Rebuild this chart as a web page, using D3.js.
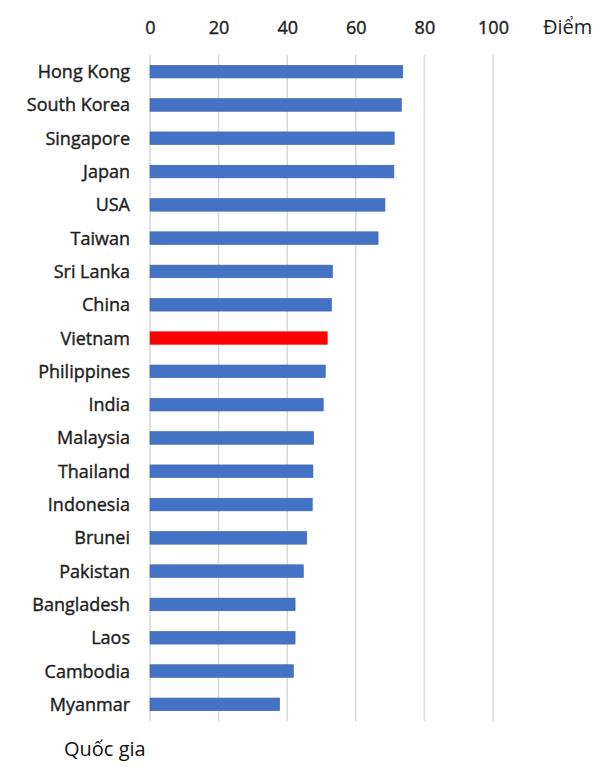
<!DOCTYPE html>
<html>
<head>
<meta charset="utf-8">
<script src="https://cdn.jsdelivr.net/npm/d3@7"></script>
<style>
  body { margin: 0; background: #fff; }
  svg { display: block; }
  text { font-family: "Open Sans", "Noto Sans", sans-serif; }
</style>
</head>
<body>
<svg id="chart" width="600" height="776"></svg>
<script>
const countries = ["Hong Kong","South Korea","Singapore","Japan","USA","Taiwan","Sri Lanka","China","Vietnam","Philippines","India","Malaysia","Thailand","Indonesia","Brunei","Pakistan","Bangladesh","Laos","Cambodia","Myanmar"];
const scores = [73.7,73.3,71.2,71.1,68.5,66.5,53.2,52.9,51.7,51.1,50.5,47.7,47.5,47.3,45.7,44.7,42.3,42.3,41.8,37.8];
const xTicks = [0,20,40,60,80,100];
const highlight = "Vietnam";
const xTitle = "Điểm";
const yTitle = "Quốc gia";

const svg = d3.select("#chart");
const mLeft = 150, mRight = 493, mTop = 55, mBottom = 721;

const x = d3.scaleLinear().domain([0,100]).range([mLeft,mRight]);
const y = d3.scaleBand().domain(countries).range([mTop,mBottom]).paddingInner(0.62).paddingOuter(0.31);

// gridlines
svg.append("g").selectAll("line").data(xTicks).join("line")
  .attr("x1", d => x(d)).attr("x2", d => x(d))
  .attr("y1", mTop).attr("y2", mBottom)
  .attr("stroke", "#d9d9d9").attr("stroke-width", 1.5);

// top axis labels
const xAxis = d3.axisTop(x).tickValues(xTicks).tickSize(0).tickPadding(0);
const gx = svg.append("g").attr("transform", `translate(0,34)`).call(xAxis);
gx.select(".domain").remove();
gx.selectAll("text").attr("font-size", 18).attr("fill", "#1e1e1e").attr("dy", 0)
  .attr("stroke", "#1e1e1e").attr("stroke-width", 0.4)
  .style("font-family", '"Open Sans", sans-serif');

svg.append("text").attr("x", 543).attr("y", 34).attr("font-size", 20).attr("fill", "#1e1e1e").text(xTitle);

// y labels
const yAxis = d3.axisLeft(y).tickSize(0).tickPadding(20);
const gy = svg.append("g").attr("transform", `translate(${mLeft},0)`).call(yAxis);
gy.select(".domain").remove();
gy.selectAll("text").attr("font-size", 18).attr("fill", "#1e1e1e").attr("dy", "0.36em")
  .attr("stroke", "#1e1e1e").attr("stroke-width", 0.4)
  .style("font-family", '"Open Sans", sans-serif');

// bars
svg.append("g").selectAll("rect").data(countries).join("rect")
  .attr("x", x(0))
  .attr("y", d => y(d))
  .attr("width", (d,i) => x(scores[i]) - x(0))
  .attr("height", y.bandwidth())
  .attr("fill", d => d === highlight ? "#ff0000" : "#4472c4")
  .attr("stroke", d => d === highlight ? "#ff2020" : "#3a64b0")
  .attr("stroke-width", 0.6);

svg.append("text").attr("x", 64).attr("y", 756).attr("font-size", 20).attr("fill", "#111").text(yTitle);
</script>
</body>
</html>
